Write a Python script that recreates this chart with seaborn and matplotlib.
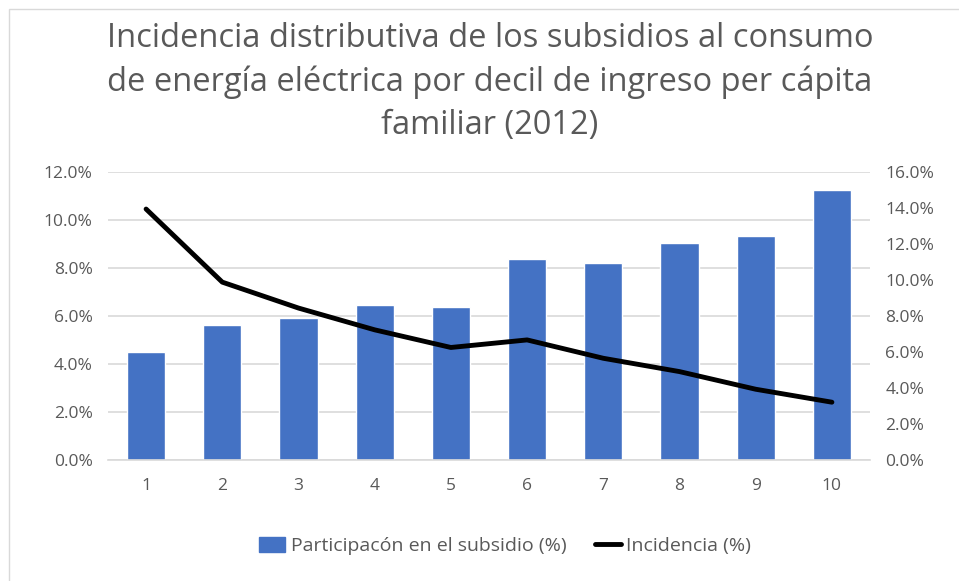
import numpy as np
import pandas as pd
import matplotlib
matplotlib.use("Agg")
import matplotlib.pyplot as plt
import seaborn as sns
from matplotlib.ticker import PercentFormatter
from matplotlib.lines import Line2D
from matplotlib.patches import Patch, Rectangle

# Data
deciles = ["1", "2", "3", "4", "5", "6", "7", "8", "9", "10"]
participacion = [4.50, 5.62, 5.93, 6.44, 6.39, 8.37, 8.19, 9.02, 9.32, 11.24]
incidencia = [13.94, 9.88, 8.44, 7.23, 6.25, 6.67, 5.65, 4.91, 3.93, 3.21]

title = ("Incidencia distributiva de los subsidios al consumo\n"
         "de energía eléctrica por decil de ingreso per cápita\n"
         "familiar (2012)")
bar_label = "Participacón en el subsidio (%)"
line_label = "Incidencia (%)"

df = pd.DataFrame({"decil": deciles, "participacion": participacion,
                   "incidencia": incidencia})

sns.set_theme(style="white")
plt.rcParams["font.family"] = ["Open Sans", "DejaVu Sans"]

gray_text = "#595959"
grid_col = "#d9d9d9"
blue = "#4472c4"
tick_size = 12.5

fig = plt.figure(figsize=(9.59, 5.81), dpi=100)
ax = fig.add_axes([0.1126, 0.2083, 0.7946, 0.4957])

sns.barplot(data=df, x="decil", y="participacion", color=blue,
            width=0.5, ax=ax, saturation=1)
ax.set_ylim(0, 12)
ax.set_yticks(np.arange(0, 12.1, 2))
ax.yaxis.set_major_formatter(PercentFormatter(decimals=1))
ax.grid(axis="y", color=grid_col, linewidth=1.2)
ax.set_axisbelow(True)
ax.set_xlabel("")
ax.set_ylabel("")
for s in ["top", "left", "right"]:
    ax.spines[s].set_visible(False)
ax.spines["bottom"].set_color(grid_col)
ax.spines["bottom"].set_linewidth(1.2)
ax.tick_params(axis="both", length=0, colors=gray_text, labelsize=tick_size)
ax.tick_params(axis="x", pad=13)
ax.tick_params(axis="y", pad=11)

ax2 = ax.twinx()
sns.lineplot(data=df, x="decil", y="incidencia", color="black",
             linewidth=3.5, ax=ax2, sort=False)
ax2.set_ylim(0, 16)
ax2.set_yticks(np.arange(0, 16.1, 2))
ax2.yaxis.set_major_formatter(PercentFormatter(decimals=1))
ax2.set_ylabel("")
ax2.set_xlabel("")
for s in ["top", "left", "right", "bottom"]:
    ax2.spines[s].set_visible(False)
ax2.tick_params(axis="y", length=0, colors=gray_text, labelsize=tick_size, pad=11)
ax2.grid(False)
ax.set_xlim(-0.5, 9.5)

fig.text(0.511, 1 - 82 / 581, title, ha="center", va="center", fontsize=23.5,
         color=gray_text, linespacing=1.42, multialignment="center")

handles = [Patch(facecolor=blue, edgecolor=blue),
           Line2D([0], [0], color="black", linewidth=3.5)]
fig.legend(handles, [bar_label, line_label], loc="center",
           bbox_to_anchor=(0.527, 0.06), ncol=2, frameon=False,
           fontsize=14, labelcolor=gray_text, handlelength=1.3,
           handleheight=0.85, handletextpad=0.3, columnspacing=1.5)

fig.patches.append(Rectangle((9 / 959, -0.1), 1.2, 1 - 9 / 581 + 0.1,
                             transform=fig.transFigure, fill=False,
                             edgecolor="#d9d9d9", linewidth=1))

fig.savefig("out.png", dpi=100)
